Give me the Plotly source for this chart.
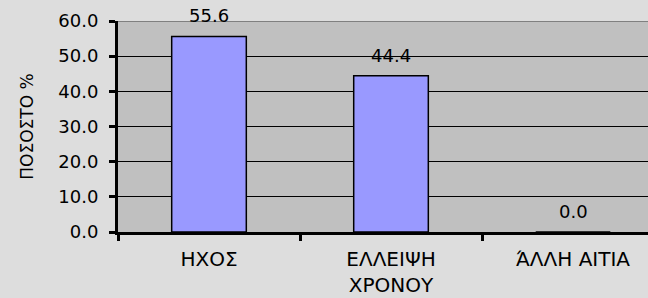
import plotly.graph_objects as go

categories = ["ΗΧΟΣ", "ΕΛΛΕΙΨΗ<br>ΧΡΟΝΟΥ", "ΆΛΛΗ ΑΙΤΙΑ"]
values = [55.6, 44.4, 0.0]
y_ticks = [0, 10, 20, 30, 40, 50, 60]
y_title = "ΠΟΣΟΣΤΟ %"

FONT = "DejaVu Sans"

fig = go.Figure()
fig.add_trace(go.Bar(
    x=categories, y=values, width=0.41,
    marker=dict(color="#9999FF", line=dict(color="black", width=1.5)),
    hoverinfo="x+y",
))

for c, v in zip(categories, values):
    fig.add_annotation(x=c, y=v, xref="x", yref="y", text=f"{v:.1f}",
                       showarrow=False, yanchor="bottom", yshift=8,
                       font=dict(family=FONT, size=18, color="black"))

# top border of the plot area
fig.add_shape(type="line", xref="paper", yref="y", x0=0, x1=1,
              y0=y_ticks[-1], y1=y_ticks[-1], line=dict(color="#808080", width=2))

fig.update_layout(
    width=648, height=298,
    margin=dict(l=118, r=0, t=21, b=66),
    paper_bgcolor="#DDDDDD", plot_bgcolor="#C0C0C0",
    showlegend=False,
    xaxis=dict(
        type="category", range=[-0.5, 2.412], tickson="boundaries",
        ticks="outside", ticklen=6, tickwidth=3, tickcolor="black",
        showline=True, linecolor="black", linewidth=3,
        showgrid=False, fixedrange=True, ticklabelstandoff=7,
        automargin=False,
        tickfont=dict(family=FONT, size=20, color="black"),
    ),
    yaxis=dict(
        range=[0, 60], tickvals=y_ticks, tickformat=".1f",
        ticks="outside", ticklen=6, tickwidth=3, tickcolor="black",
        showline=True, linecolor="black", linewidth=3,
        showgrid=True, gridcolor="black", gridwidth=1,
        zeroline=False, fixedrange=True, ticklabelstandoff=7,
        automargin=False,
        tickfont=dict(family=FONT, size=18, color="black"),
        title=dict(text=y_title, standoff=21,
                   font=dict(family=FONT, size=17, color="black")),
    ),
)

fig.write_html(
    "out.html",
    config={"displayModeBar": False},
    post_script="document.body.style.margin='0';document.body.style.overflow='hidden';"
                "document.body.style.background='#DDDDDD';",
)
